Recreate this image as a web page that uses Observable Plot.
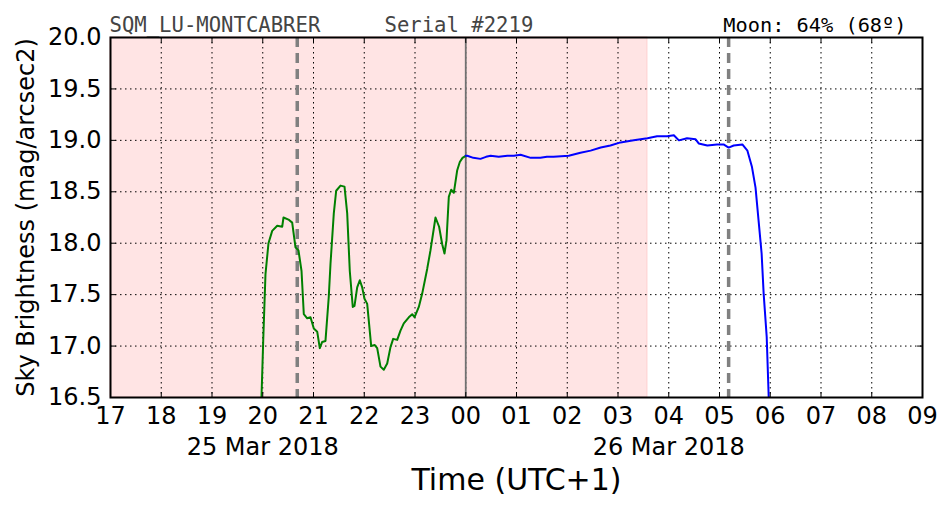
<!DOCTYPE html>
<html>
<head>
<meta charset="utf-8">
<script src="https://cdn.jsdelivr.net/npm/d3@7"></script>
<script src="https://cdn.jsdelivr.net/npm/@observablehq/plot@0.6"></script>
<style>
  html, body { margin: 0; padding: 0; background: #fff; }
  svg { display: block; }
</style>
</head>
<body>
<div id="chart"></div>
<script>
// Hours counted from 25 Mar 2018 00:00 (UTC+1)
const greenTime = [19.90, 19.975, 20.009, 20.054, 20.113, 20.186, 20.285, 20.383, 20.409, 20.507, 20.580, 20.645, 20.704, 20.764, 20.809, 20.876, 20.941, 21.006, 21.073, 21.124, 21.171, 21.236, 21.301, 21.335, 21.400, 21.447, 21.532, 21.611, 21.664, 21.715, 21.774, 21.808, 21.861, 21.912, 21.960, 22.005, 22.058, 22.137, 22.208, 22.255, 22.320, 22.385, 22.452, 22.517, 22.570, 22.649, 22.714, 22.779, 22.878, 22.945, 22.990, 23.075, 23.142, 23.240, 23.305, 23.404, 23.475, 23.536, 23.581, 23.621, 23.666, 23.713, 23.765, 23.832, 23.883, 23.936, 24.0];
const greenValue = [16.30, 16.50, 17.05, 17.70, 18.00, 18.12, 18.17, 18.16, 18.25, 18.23, 18.20, 17.96, 17.93, 17.73, 17.31, 17.27, 17.28, 17.17, 17.14, 16.98, 17.04, 17.05, 17.48, 17.80, 18.29, 18.51, 18.56, 18.55, 18.29, 17.73, 17.38, 17.39, 17.57, 17.64, 17.57, 17.46, 17.41, 17.00, 17.01, 16.98, 16.80, 16.77, 16.83, 16.99, 17.07, 17.06, 17.15, 17.22, 17.28, 17.31, 17.28, 17.38, 17.51, 17.75, 17.93, 18.25, 18.16, 17.99, 17.90, 18.03, 18.45, 18.52, 18.49, 18.71, 18.79, 18.83, 18.85];

const blueTime = [24.0, 24.03, 24.15, 24.29, 24.40, 24.49, 24.65, 24.82, 24.95, 25.08, 25.28, 25.47, 25.60, 25.73, 26.03, 26.26, 26.46, 26.66, 26.85, 27.05, 27.31, 27.58, 27.77, 27.97, 28.10, 28.20, 28.36, 28.53, 28.59, 28.76, 28.95, 29.08, 29.18, 29.28, 29.45, 29.55, 29.64, 29.71, 29.77, 29.83, 29.87, 29.93, 29.97, 30.02];
const blueValue = [18.85, 18.85, 18.83, 18.82, 18.84, 18.85, 18.84, 18.85, 18.85, 18.86, 18.83, 18.83, 18.84, 18.84, 18.85, 18.88, 18.90, 18.93, 18.95, 18.98, 19.00, 19.02, 19.04, 19.04, 19.05, 19.00, 19.02, 19.01, 18.97, 18.95, 18.96, 18.96, 18.93, 18.95, 18.96, 18.90, 18.74, 18.54, 18.22, 17.90, 17.51, 17.09, 16.50, 16.20];

const nightStart = [17];
const nightEnd = [27.58];
const moonEvents = [20.68, 29.18];
const midnight = [24];

const xTicks = d3.range(17, 34);
const yTicks = [16.5, 17.0, 17.5, 18.0, 18.5, 19.0, 19.5, 20.0];
const dateTicks = [20, 28];
const dateLabels = ["25 Mar 2018", "26 Mar 2018"];

const titleLeft = "SQM_LU-MONTCABRER";
const titleSerial = "Serial #2219";
const titleMoon = "Moon: 64% (68º)";
const xLabel = "Time (UTC+1)";
const yLabel = "Sky Brightness (mag/arcsec2)";

const xDomain = [17, 33];
const yDomain = [16.5, 20.0];

const green = greenTime.map((t, i) => ({t, v: greenValue[i]}));
const blue = blueTime.map((t, i) => ({t, v: blueValue[i]}));
const spans = nightStart.map((s, i) => ({s, e: nightEnd[i]}));

const tickShape = { draw(context, l) { context.moveTo(0, 0); context.lineTo(0, -l); } };
const font = "DejaVu Sans, sans-serif";
const mono = "DejaVu Sans Mono, monospace";

const chart = Plot.plot({
  width: 952,
  height: 512,
  marginLeft: 110,
  marginRight: 30,
  marginTop: 37,
  marginBottom: 115,
  style: { fontFamily: font, background: "#fff", color: "#000" },
  x: { domain: xDomain, axis: null },
  y: { domain: yDomain, axis: null },
  marks: [
    Plot.rect(spans, { x1: "s", x2: "e", y1: yDomain[0], y2: yDomain[1], fill: "#ffe4e4", stroke: "#ffd0d0", strokeWidth: 1 }),
    Plot.ruleX(xTicks.slice(1, -1), { stroke: "#000", strokeWidth: 1, strokeDasharray: "1.5,3.5" }),
    Plot.ruleY(yTicks.slice(1, -1), { stroke: "#000", strokeWidth: 1, strokeDasharray: "1.5,3.5" }),
    Plot.ruleX(midnight, { stroke: "#707070", strokeWidth: 1.8 }),
    Plot.ruleX(moonEvents, { stroke: "#808080", strokeWidth: 3.5, strokeDasharray: "10,6" }),
    Plot.line(green, { x: "t", y: "v", stroke: "green", strokeWidth: 2, clip: true }),
    Plot.line(blue, { x: "t", y: "v", stroke: "blue", strokeWidth: 2, clip: true }),
    Plot.frame({ stroke: "#000", strokeWidth: 2 }),
    // inward ticks on all sides
    Plot.vector(xTicks, { x: d => d, y: yDomain[0], length: 5, rotate: 0, anchor: "start", shape: tickShape, stroke: "#000", strokeWidth: 1 }),
    Plot.vector(xTicks, { x: d => d, y: yDomain[1], length: 5, rotate: 180, anchor: "start", shape: tickShape, stroke: "#000", strokeWidth: 1 }),
    Plot.vector(yTicks, { y: d => d, x: xDomain[0], length: 5, rotate: 90, anchor: "start", shape: tickShape, stroke: "#000", strokeWidth: 1 }),
    Plot.vector(yTicks, { y: d => d, x: xDomain[1], length: 5, rotate: -90, anchor: "start", shape: tickShape, stroke: "#000", strokeWidth: 1 }),
    Plot.axisX({ ticks: xTicks, tickSize: 0, tickPadding: 9, fontSize: 24, tickFormat: d => String(d % 24).padStart(2, "0"), label: null }),
    Plot.axisX({ ticks: dateTicks, tickSize: 0, tickPadding: 40, fontSize: 24, tickFormat: d => dateLabels[dateTicks.indexOf(d)], label: null }),
    Plot.axisY({ ticks: yTicks, tickSize: 0, tickPadding: 9, fontSize: 24, tickFormat: d => d.toFixed(1), label: null }),
    Plot.text([xLabel], { text: d => d, frameAnchor: "bottom", dy: 92, fontSize: 30, fill: "#000" }),
    Plot.text([yLabel], { text: d => d, frameAnchor: "left", textAnchor: "middle", dx: -84, rotate: -90, fontSize: 24, fill: "#000" }),
    Plot.text([titleLeft], { text: d => d, frameAnchor: "top-left", textAnchor: "start", lineAnchor: "bottom", dy: -6, dx: -1, fontSize: 20.6, fontFamily: mono, fill: "#444" }),
    Plot.text([titleSerial], { text: d => d, x: 17 + (384 - 110) / 50.75, frameAnchor: "top", textAnchor: "start", lineAnchor: "bottom", dy: -6, fontSize: 20.6, fontFamily: mono, fill: "#444" }),
    Plot.text([titleMoon], { text: d => d, frameAnchor: "top-right", textAnchor: "end", lineAnchor: "bottom", dx: -16, dy: -6, fontSize: 20.3, fontFamily: mono, fill: "#000" })
  ]
});
document.getElementById("chart").appendChild(chart);
</script>
</body>
</html>
